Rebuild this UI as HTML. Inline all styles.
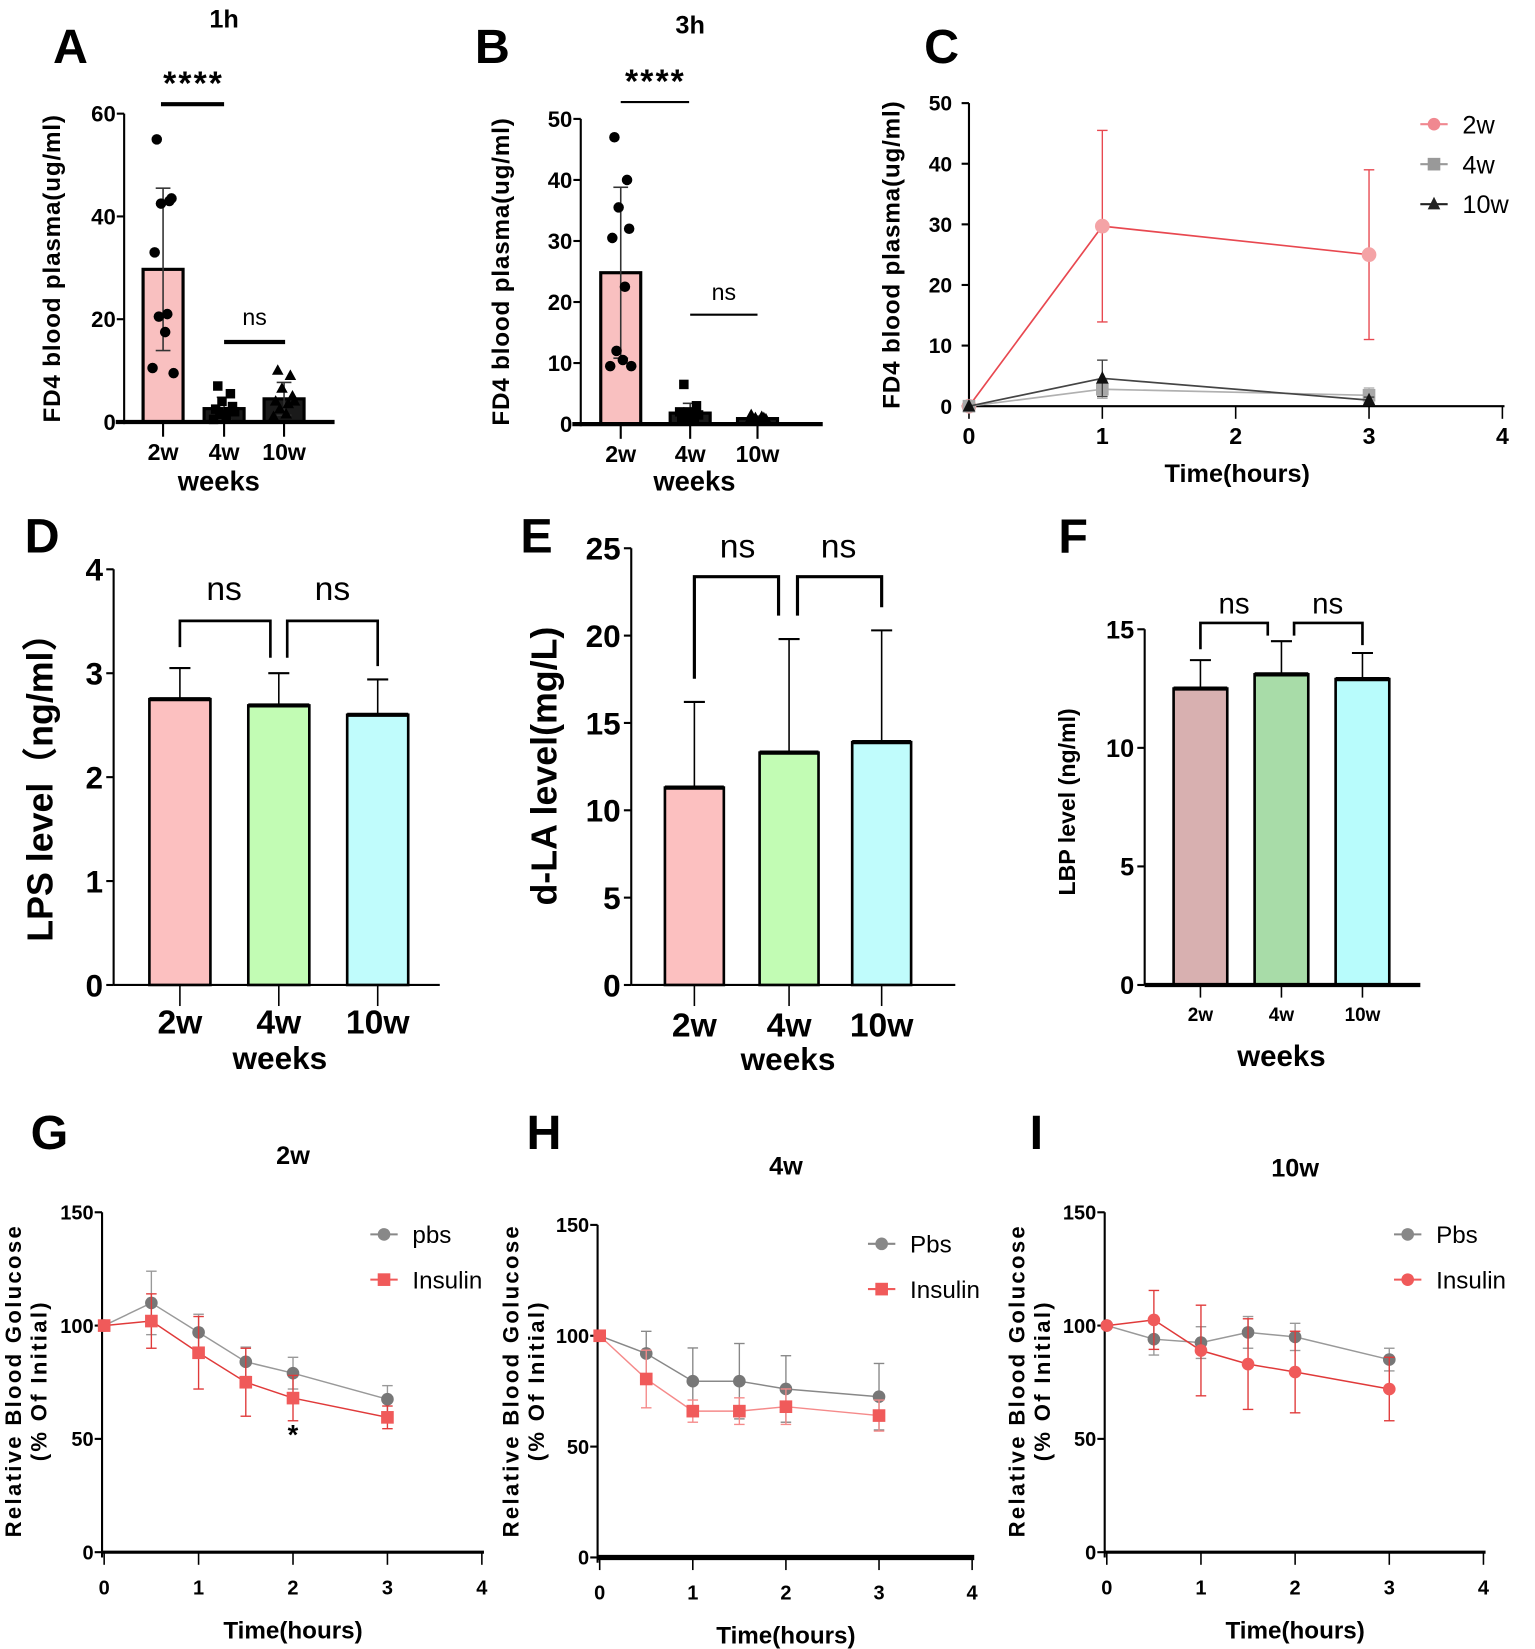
<!DOCTYPE html>
<html><head><meta charset="utf-8"><style>
html,body{margin:0;padding:0;background:#fff;width:1535px;height:1649px;overflow:hidden}
svg{display:block}
text{font-family:"Liberation Sans Narrow","Liberation Sans","Noto Sans CJK SC",sans-serif}
</style></head><body>
<svg id="fig" width="1535" height="1649" viewBox="0 0 1459 1567" preserveAspectRatio="none"></svg>
<script>
// ---- data ----
const cats = ['2w','4w','10w'];
// Panel A (1h)
const aMeans = [29.7, 2.6, 4.5];
const aSd = [15.8, 2.2, 3.2];
const aPts2w = [55, 43, 42.5, 43.5, 33, 21, 20.5, 17.5, 10.5, 9.5];
const aPts4w = [7, 5.5, 4, 3, 2.5, 2, 1.5, 1, 0.5, 2];
const aPts10w = [10, 9, 6.5, 5, 4, 3.5, 2.5, 1.5, 1, 4];
const aTicks = [0, 20, 40, 60];
// Panel B (3h)
const bMeans = [24.8, 1.8, 0.9];
const bSd = [14, 1.6, 0.4];
const bPts2w = [47, 40, 35.5, 32, 30.5, 22.5, 12, 10.5, 9.5, 9.5];
const bPts4w = [6.5, 3, 2, 1.5, 1, 1, 0.5, 1.5, 2];
const bPts10w = [1.5, 1, 1, 0.8, 0.5, 1.2, 0.6];
const bTicks = [0, 10, 20, 30, 40, 50];
// Panel C
const cHours = [0, 1, 3];
const c2w = [0, 29.7, 25];
const c2wErr = [0, 15.8, 14];
const c4w = [0, 2.8, 1.8];
const c4wErr = [0, 1.5, 1.2];
const c10w = [0, 4.6, 1.0];
const c10wErr = [0, 3.0, 0.5];
const cYTicks = [0, 10, 20, 30, 40, 50];
const xHourTicks = [0, 1, 2, 3, 4];
// Panel D/E/F
const dMeans = [2.75, 2.69, 2.6];
const dErr = [0.3, 0.31, 0.34];
const dTicks = [0, 1, 2, 3, 4];
const eMeans = [11.3, 13.3, 13.9];
const eErr = [4.9, 6.5, 6.4];
const eTicks = [0, 5, 10, 15, 20, 25];
const fMeans = [12.5, 13.1, 12.9];
const fErr = [1.2, 1.4, 1.1];
const fTicks = [0, 5, 10, 15];
// Panels G/H/I
const gTimes = [0, 0.5, 1, 1.5, 2, 3];
const gPbs = [100, 110, 97, 84, 79, 67.5];
const gPbsErr = [0, 14, 8, 6.5, 7, 6];
const gIns = [100, 102, 88, 75, 68, 59.5];
const gInsErr = [0, 12, 16, 15, 10, 5];
const hPbs = [100, 92, 79.5, 79.5, 76, 72.5];
const hPbsErr = [0, 10, 15, 17, 15, 15];
const hIns = [100, 80.5, 66, 66, 68, 64];
const hInsErr = [0, 13, 5, 6, 8, 7];
const iPbs = [100, 94, 92.5, 97, 95, 85];
const iPbsErr = [0, 7, 7, 7, 6, 5];
const iIns = [100, 102.5, 89, 83, 79.5, 72];
const iInsErr = [0, 13, 20, 20, 18, 14];
const gYTicks = [0, 50, 100, 150];

// ---- helpers ----
const NS = 'http://www.w3.org/2000/svg';
const svg = document.getElementById('fig');
function mk(tag, a, p) { const e = document.createElementNS(NS, tag); for (const k in a) e.setAttribute(k, a[k]); (p || svg).appendChild(e); return e; }
function grp(name) { const g = mk('g', {}); 

return g; }
function tx(p, x, y, s, size, anchor, weight, rot, fam, ls) {
  const a = { x: x, y: y, 'font-size': size, 'text-anchor': anchor || 'middle', 'font-weight': weight || 'bold', fill: '#000' };
  if (rot) a.transform = 'rotate(' + rot + ' ' + x + ' ' + y + ')';
  if (fam) a['font-family'] = fam;
  if (ls) a['letter-spacing'] = ls;
  const e = mk('text', a, p); e.textContent = s; return e;
}
function lin(v0, v1, p0, p1) { return v => p0 + (v - v0) * (p1 - p0) / (v1 - v0); }
function ln(p, x1, y1, x2, y2, c, w) { return mk('line', { x1: x1, y1: y1, x2: x2, y2: y2, stroke: c || '#000', 'stroke-width': w || 2 }, p); }
const WIDE = '"Liberation Sans","Noto Sans CJK SC",sans-serif';

function yAxis(p, x, y, ticks, labX, size, top, bottom) {
  const l = ln(p, x, y(top), x, bottom, '#000', 2);
  
  ticks.forEach(t => {
    ln(p, x - 7, y(t), x, y(t), '#000', 2);
    const e = tx(p, labX, y(t) + size * 0.36, String(t), size, 'end');
    
  });
}

// ---- scatter bar panels A/B ----
function scatterPanel(name, ax, yTop, yBot, vmax, cx, means, sds, pts, ticks, xEnd) {
  const g = grp(name);
  const y = lin(0, vmax, yBot, yTop);
  const xc = i => cx[i];
  yAxis(g, ax, y, ticks, ax - 8, 21, vmax, yBot + 2);
  means.forEach((m, i) => {
    const r = mk('rect', { x: xc(i) - 19, y: y(m), width: 38, height: y(0) - y(m), fill: i === 0 ? '#f9c0c0' : '#1a1a1a', stroke: '#000', 'stroke-width': 3 }, g);
    
    const eb = ln(g, xc(i), y(Math.max(0, m - sds[i])), xc(i), y(m + sds[i]), '#333', 1.5);
    
    ln(g, xc(i) - 7, y(m + sds[i]), xc(i) + 7, y(m + sds[i]), '#333', 1.5);
    ln(g, xc(i) - 7, y(Math.max(0, m - sds[i])), xc(i) + 7, y(Math.max(0, m - sds[i])), '#333', 1.5);
  });
  const jit = [-6, 6, -2, 8, -8, 4, -4, 2, -10, 10];
  pts.forEach((arr, i) => arr.forEach((v, k) => {
    const px = xc(i) + jit[k % jit.length], py = y(v);
    let e;
    if (i === 0) e = mk('circle', { cx: px, cy: py, r: 5, fill: '#000' }, g);
    else if (i === 1) e = mk('rect', { x: px - 4.5, y: py - 4.5, width: 9, height: 9, fill: '#000' }, g);
    else e = mk('polygon', { points: (px) + ',' + (py - 6) + ' ' + (px - 5.5) + ',' + (py + 4) + ' ' + (px + 5.5) + ',' + (py + 4), fill: '#000' }, g);
    
  }));
  const xl = ln(g, ax - 8, y(0), xEnd, y(0), '#000', 4);
  
  cx.forEach((c, i) => {
    ln(g, c, y(0), c, y(0) + 14, '#000', 2);
    const e = tx(g, c, y(0) + 36, cats[i], 22, 'middle');
    
  });
  return { g: g, y: y };
}

// Panel A
(function () {
  const cx = [155, 213, 270];
  const P = scatterPanel('panel-a', 118, 108, 401, 60, cx, aMeans, aSd, [aPts2w, aPts4w, aPts10w], aTicks, 318);
  const g = P.g;
  let e = tx(g, 67, 60, 'A', 46, 'middle', 'bold', 0, WIDE); 
  e = tx(g, 213, 26, '1h', 24); 
  e = tx(g, 184, 90, '****', 32, 'middle', 'bold', 0, WIDE, 2); 
  ln(g, 153, 99, 213, 99, '#000', 4);
  e = tx(g, 242, 309, 'ns', 22, 'middle', 'normal'); 
  ln(g, 213, 325, 271, 325, '#000', 4);
  e = tx(g, 57, 255, 'FD4 blood plasma(ug/ml)', 23, 'middle', 'bold', -90, WIDE, 0.8); 
  e = tx(g, 208, 466, 'weeks', 26); 
})();

// Panel B
(function () {
  const cx = [590, 656, 720];
  const P = scatterPanel('panel-b', 552, 113, 403, 50, cx, bMeans, bSd, [bPts2w, bPts4w, bPts10w], bTicks, 782);
  const g = P.g;
  let e = tx(g, 468, 60, 'B', 46, 'middle', 'bold', 0, WIDE); 
  e = tx(g, 656, 32, '3h', 24); 
  e = tx(g, 623, 88, '****', 32, 'middle', 'bold', 0, WIDE, 2); 
  ln(g, 590, 97, 655, 97, '#000', 2);
  e = tx(g, 688, 285, 'ns', 22, 'middle', 'normal'); 
  ln(g, 656, 299, 720, 299, '#000', 2);
  e = tx(g, 484, 258, 'FD4 blood plasma(ug/ml)', 23, 'middle', 'bold', -90, WIDE, 0.8); 
  e = tx(g, 660, 466, 'weeks', 26); 
})();

// ---- line panel ----
function markerAt(g, type, x, y, col, r) {
  if (type === 'circle') return mk('circle', { cx: x, cy: y, r: r, fill: col }, g);
  if (type === 'square') return mk('rect', { x: x - r, y: y - r, width: 2 * r, height: 2 * r, fill: col }, g);
  return mk('polygon', { points: x + ',' + (y - r - 1) + ' ' + (x - r) + ',' + (y + r - 1) + ' ' + (x + r) + ',' + (y + r - 1), fill: col }, g);
}
function series(g, name, xs, vs, es, x, y, lineCol, markCol, type, r, lw) {
  const pl = mk('polyline', { points: xs.map((h, i) => x(h) + ',' + y(vs[i])).join(' '), fill: 'none', stroke: lineCol, 'stroke-width': lw || 1.6 }, g);
  
  xs.forEach((h, i) => {
    if (es[i] > 0) {
      const eb = ln(g, x(h), y(vs[i] - es[i]), x(h), y(vs[i] + es[i]), lineCol, 1.3);
      
      ln(g, x(h) - 5, y(vs[i] - es[i]), x(h) + 5, y(vs[i] - es[i]), lineCol, 1.3);
      ln(g, x(h) - 5, y(vs[i] + es[i]), x(h) + 5, y(vs[i] + es[i]), lineCol, 1.3);
    }
    const m = markerAt(g, type, x(h), y(vs[i]), markCol, r);
    
  });
}
function legendEntry(g, name, x, y, label, col, type, size) {
  const l = ln(g, x, y, x + 26, y, col, 2);
  
  markerAt(g, type, x + 13, y, col, 6);
  const e = tx(g, x + 40, y + size * 0.36, label, size, 'start', 'normal');
  
}
function xHourAxis(g, x, y0, xStart, xEnd, labY, size, w) {
  const xl = ln(g, xStart, y0, xEnd, y0, '#000', w);
  
  xHourTicks.forEach(h => {
    ln(g, x(h), y0, x(h), y0 + 12, '#000', 1.5);
    const e = tx(g, x(h), labY, String(h), size);
    
  });
}

// Panel C
(function () {
  const g = grp('panel-c');
  const x = lin(0, 4, 921, 1428), y = lin(0, 50, 386, 98);
  yAxis(g, 921, y, cYTicks, 905, 20, 50, 388);
  xHourAxis(g, x, 386, 915, 1430, 422, 22, 2);
  series(g, 'series-2w', cHours, c2w, c2wErr, x, y, '#e84850', '#f4a3a6', 'circle', 7, 1.6);
  series(g, 'series-4w', cHours, c4w, c4wErr, x, y, '#b0b0b0', '#a8a8a8', 'square', 6, 1.6);
  series(g, 'series-10w', cHours, c10w, c10wErr, x, y, '#444', '#111', 'tri', 6, 1.6);
  legendEntry(g, 'legend-2w', 1350, 118, '2w', '#f08890', 'circle', 24);
  legendEntry(g, 'legend-4w', 1350, 156, '4w', '#999', 'square', 24);
  legendEntry(g, 'legend-10w', 1350, 194, '10w', '#222', 'tri', 24);
  let e = tx(g, 895, 60, 'C', 46, 'middle', 'bold', 0, WIDE); 
  e = tx(g, 855, 242, 'FD4 blood plasma(ug/ml)', 23, 'middle', 'bold', -90, WIDE, 0.8); 
  e = tx(g, 1176, 458, 'Time(hours)', 24); 
})();

// ---- bar panels D/E/F ----
function barPanel(name, ax, yTop, yBot, vmax, cx, bw, means, errs, ticks, colors, xEnd, tickSize, labY, xw) {
  const g = grp(name);
  const y = lin(0, vmax, yBot, yTop);
  yAxis(g, ax, y, ticks, ax - 10, tickSize, vmax, yBot);
  means.forEach((m, i) => {
    const eb = ln(g, cx[i], y(m), cx[i], y(m + errs[i]), '#000', 1.5);
    
    ln(g, cx[i] - 10, y(m + errs[i]), cx[i] + 10, y(m + errs[i]), '#000', 2);
    const r = mk('rect', { x: cx[i] - bw / 2, y: y(m), width: bw, height: y(0) - y(m), fill: colors[i], stroke: '#000', 'stroke-width': 2.5 }, g);
    
    ln(g, cx[i] - bw / 2, y(m), cx[i] + bw / 2, y(m), '#000', 4);
  });
  const xl = ln(g, ax, y(0), xEnd, y(0), '#000', xw);
  
  return { g: g, y: y };
}
function bracket(g, x1, x2, yTop, y1, y2, w) {
  const p = mk('polyline', { points: x1 + ',' + y1 + ' ' + x1 + ',' + yTop + ' ' + x2 + ',' + yTop + ' ' + x2 + ',' + y2, fill: 'none', stroke: '#000', 'stroke-width': w }, g);
  
}
function catLabels(g, cx, yy, size, tickTop, tickLen) {
  cx.forEach((c, i) => {
    ln(g, c, tickTop, c, tickTop + tickLen, '#000', 1.5);
    const e = tx(g, c, yy, cats[i], size);
    
  });
}

// Panel D
(function () {
  const cx = [171, 265, 359];
  const P = barPanel('panel-d', 108, 541, 936, 4, cx, 58, dMeans, dErr, dTicks, ['#fcc0c0', '#c2fcb4', '#c0fcfc'], 418, 30, 0, 2);
  const g = P.g;
  catLabels(g, cx, 982, 32, 936, 20);
  bracket(g, 171, 257, 590, 615, 625, 2.5);
  bracket(g, 273, 359, 590, 625, 633, 2.5);
  let e = tx(g, 213, 570, 'ns', 32, 'middle', 'normal'); 
  e = tx(g, 316, 570, 'ns', 32, 'middle', 'normal'); 
  e = tx(g, 40, 525, 'D', 46, 'middle', 'bold', 0, WIDE); 
  e = tx(g, 50, 740, 'LPS level（ng/ml）', 34, 'middle', 'bold', -90, WIDE); 
  e = tx(g, 266, 1016, 'weeks', 30); 
})();

// Panel E
(function () {
  const cx = [660, 750, 838];
  const P = barPanel('panel-e', 600, 521, 936, 25, cx, 56, eMeans, eErr, eTicks, ['#fcc0c0', '#c2fcb4', '#c0fcfc'], 908, 30, 0, 2);
  const g = P.g;
  catLabels(g, cx, 985, 32, 936, 20);
  bracket(g, 660, 740, 548, 645, 585, 3);
  bracket(g, 758, 838, 548, 585, 577, 3);
  let e = tx(g, 701, 530, 'ns', 32, 'middle', 'normal'); 
  e = tx(g, 797, 530, 'ns', 32, 'middle', 'normal'); 
  e = tx(g, 510, 525, 'E', 46, 'middle', 'bold', 0, WIDE); 
  e = tx(g, 529, 728, 'd-LA level(mg/L)', 34, 'middle', 'bold', -90, WIDE); 
  e = tx(g, 749, 1017, 'weeks', 30); 
})();

// Panel F
(function () {
  const cx = [1141, 1218, 1295];
  const P = barPanel('panel-f', 1088, 598, 936, 15, cx, 51, fMeans, fErr, fTicks, ['#d8b0b0', '#a8dca8', '#b8fcfc'], 1350, 24, 0, 4);
  const g = P.g;
  catLabels(g, cx, 970, 18, 936, 12);
  bracket(g, 1141, 1205, 592, 617, 604, 2.5);
  bracket(g, 1230, 1295, 592, 604, 613, 2.5);
  let e = tx(g, 1173, 583, 'ns', 28, 'middle', 'normal'); 
  e = tx(g, 1262, 583, 'ns', 28, 'middle', 'normal'); 
  e = tx(g, 1020, 525, 'F', 46, 'middle', 'bold', 0, WIDE); 
  e = tx(g, 1022, 762, 'LBP level (ng/ml)', 22, 'middle', 'bold', -90, WIDE); 
  e = tx(g, 1218, 1013, 'weeks', 28); 
})();

// ---- G/H/I ----
function gluPanel(name, letter, lx, title, tY, axX, x0, x4, y150, y0, pbs, pbsE, ins, insE, insType, pbsCol, insCol, legX, legY1, legY2, pbsLabel, axW, ytx) {
  const g = grp(name);
  const x = lin(0, 4, x0, x4), y = lin(0, 150, y0, y150);
  yAxis(g, axX, y, gYTicks, axX - 8, 19, 150, y0 + 5);
  xHourAxis(g, x, y0, axX, x4 + 2, y0 + 40, 19, axW);
  series(g, 'pbs-series', gTimes, pbs, pbsE, x, y, pbsCol, '#777', 'circle', 6, 1.4);
  series(g, 'insulin-series', gTimes, ins, insE, x, y, insCol, '#f05a5a', insType, 6, 1.4);
  legendEntry(g, 'pbs', legX, legY1, pbsLabel, '#888', 'circle', 23);
  legendEntry(g, 'insulin', legX, legY2, 'Insulin', '#f05a5a', insType, 23);
  let e = tx(g, lx, 1092, letter, 46, 'middle', 'bold', 0, WIDE); 
  e = tx(g, x(2), tY, title, 24); 
  e = tx(g, x(2), y0 + 82, 'Time(hours)', 23); 
  e = tx(g, ytx, 1312, 'Relative Blood Golucose', 21, 'middle', 'bold', -90, WIDE, 2.2); 
  e = tx(g, ytx + 24, 1312, '(% Of Initial)', 21, 'middle', 'bold', -90, WIDE, 2.2); 
  return { g: g, x: x, y: y };
}
(function () {
  const P = gluPanel('panel-g', 'G', 47, '2w', 1106, 97, 99, 458, 1152, 1475, gPbs, gPbsErr, gIns, gInsErr, 'square', '#999', '#e03a3a', 352, 1173, 1216, 'pbs', 3, 20);
  const e = tx(P.g, P.x(2), 1372, '*', 26, 'middle', 'bold', 0, WIDE); 
})();
gluPanel('panel-h', 'H', 517, '4w', 1116, 568, 570, 924, 1164, 1480, hPbs, hPbsErr, hIns, hInsErr, 'square', '#888', '#f58a8a', 825, 1182, 1225, 'Pbs', 5, 493);
gluPanel('panel-i', 'I', 985, '10w', 1118, 1050, 1052, 1410, 1152, 1475, iPbs, iPbsErr, iIns, iInsErr, 'circle', '#999', '#e03a3a', 1325, 1173, 1216, 'Pbs', 3, 974);
</script>
</body></html>
